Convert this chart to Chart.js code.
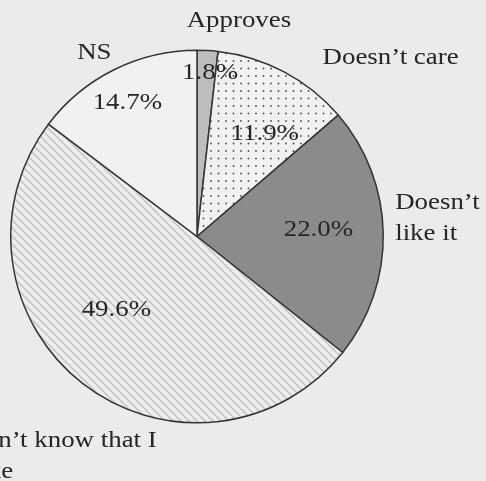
<!DOCTYPE html>
<html>
<head>
<meta charset="utf-8">
<script src="https://cdn.jsdelivr.net/npm/chart.js@4"></script>
<style>
  html, body { margin: 0; padding: 0; background: #ebebeb; }
  #wrap { width: 486px; height: 481px; }
  .probe { font-family: "Liberation Serif"; position: absolute; left: -999px; }
</style>
</head>
<body>
<span class="probe">Approves</span>
<div id="wrap"><canvas id="c" width="486" height="481"></canvas></div>
<script>
// ---- data ----
const categories = ['Approves', 'Doesn\u2019t care', ['Doesn\u2019t', 'like it'], ['Doesn\u2019t know that I', 'smoke'], 'NS'];
const values = [1.8, 11.9, 22.0, 49.6, 14.7];

// ---- fills ----
function dotPattern() {
  const s = 15, cv = document.createElement('canvas');
  cv.width = s; cv.height = s;
  const g = cv.getContext('2d');
  g.fillStyle = '#f1f1f1'; g.fillRect(0, 0, s, s);
  g.fillStyle = '#505050';
  [[1, 1], [8.5, 1], [1, 8.5], [8.5, 8.5]].forEach(([x, y]) => {
    g.beginPath(); g.arc(x, y, 0.9, 0, Math.PI * 2); g.fill();
  });
  return g.createPattern(cv, 'repeat');
}
function hatchPattern() {
  const s = 8, cv = document.createElement('canvas');
  cv.width = s; cv.height = s;
  const g = cv.getContext('2d');
  g.fillStyle = '#eeeeee'; g.fillRect(0, 0, s, s);
  g.strokeStyle = '#cbcbcb'; g.lineWidth = 2;
  [-s, 0, s].forEach(o => { g.beginPath(); g.moveTo(o, 0); g.lineTo(o + s, s); g.stroke(); });
  return g.createPattern(cv, 'repeat');
}
const fills = ['#bdbdbd', dotPattern(), '#8b8b8b', hatchPattern(), '#f1f1f1'];

// ---- labels plugin ----
function drawText(ctx, t, x, y, align, sx) {
  ctx.save(); ctx.translate(x, y); ctx.scale(sx, 1); ctx.textAlign = align; ctx.fillText(t, 0, 0); ctx.restore();
}
const labelPlugin = {
  id: 'sliceLabels',
  afterDatasetsDraw(chart, args, opts) {
    const meta = chart.getDatasetMeta(0);
    const ctx = chart.ctx;
    ctx.save();
    ctx.fillStyle = opts.color;
    ctx.font = opts.font;
    ctx.textBaseline = 'middle';
    meta.data.forEach((arc, i) => {
      const R = arc.outerRadius, cx = arc.x, cy = arc.y;
      const v = chart.data.datasets[0].data[i];
      const p = opts.valuePos[i];
      drawText(ctx, v.toFixed(1) + '%', cx + p[0] * R, cy + p[1] * R, 'center', opts.scaleX);
      const c = opts.catPos[i];
      const lab = chart.data.labels[i];
      const lines = Array.isArray(lab) ? lab : [lab];
      lines.forEach((ln, k) => drawText(ctx, ln, cx + c[0] * R, cy + c[1] * R + k * opts.lineHeight, c[2], opts.scaleX));
    });
    ctx.restore();
  }
};

function draw() {
  new Chart(document.getElementById('c'), {
    type: 'pie',
    data: {
      labels: categories,
      datasets: [{
        data: values,
        backgroundColor: fills,
        borderColor: '#353535',
        borderWidth: 1.5
      }]
    },
    options: {
      responsive: false,
      devicePixelRatio: 1,
      animation: false,
      layout: { padding: { left: 10, right: 102, top: 49, bottom: 57 } },
      plugins: {
        legend: { display: false },
        tooltip: { enabled: false },
        sliceLabels: {
          color: '#262626',
          font: '24px "Liberation Serif", "Times New Roman", Times, serif',
          scaleX: 1.12,
          lineHeight: 31,
          valuePos: [[0.07, -0.88], [0.364, -0.553], [0.652, -0.035], [-0.433, 0.393], [-0.374, -0.719]],
          catPos: [[0.225, -1.158, 'center'], [0.674, -0.96, 'left'], [1.064, -0.179, 'left'], [-1.364, 1.098, 'left'], [-0.551, -0.987, 'center']]
        }
      }
    },
    plugins: [labelPlugin]
  });
}
if (document.fonts && document.fonts.load) {
  document.fonts.load('24px "Liberation Serif"').then(draw, draw);
} else { draw(); }
</script>
</body>
</html>
